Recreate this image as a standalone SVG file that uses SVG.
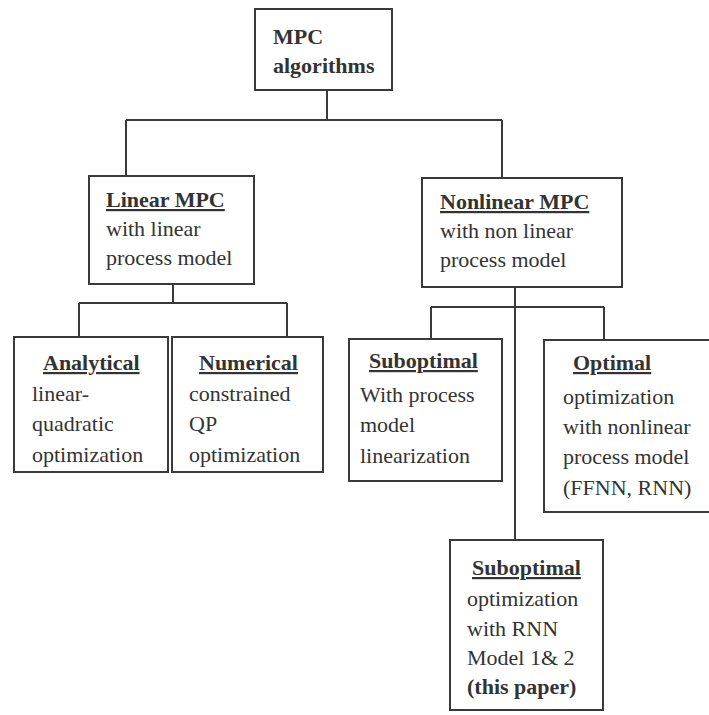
<svg xmlns="http://www.w3.org/2000/svg" width="709" height="715" viewBox="0 0 709 715">
<style>
.box{fill:#fff;stroke:#3a3a3a;stroke-width:2}
.con{fill:none;stroke:#3a3a3a;stroke-width:2}
text{font-family:"Liberation Serif","Times New Roman",serif;font-size:22px;fill:#333}
.b{font-weight:bold}
.u{text-decoration:underline}
</style>
<rect width="709" height="715" fill="#fff"/>
<g id="connectors">
<path class="con" d="M327 90V120M126 120H502M126 120V176M502 120V178"/>
<path class="con" d="M173 284V303M79 303H287M79 303V337M287 303V337"/>
<path class="con" d="M515 287V540M431 307H604M431 307V339M604 307V340"/>
</g>
<g id="n-mpc">
<rect class="box" x="255" y="9" width="137" height="81"/>
<text class="b" x="273" y="44">MPC</text>
<text class="b" x="273" y="73">algorithms</text>
</g>
<g id="n-linear">
<rect class="box" x="89" y="176" width="165" height="108"/>
<text class="b u" x="106" y="207">Linear MPC</text>
<text x="106" y="236">with linear</text>
<text x="106" y="265">process model</text>
</g>
<g id="n-nonlinear">
<rect class="box" x="422" y="178" width="200" height="109"/>
<text class="b u" x="440" y="209">Nonlinear MPC</text>
<text x="440" y="238">with non linear</text>
<text x="440" y="267">process model</text>
</g>
<g id="n-analytical">
<rect class="box" x="14" y="337" width="154" height="135"/>
<text class="b u" x="43" y="370">Analytical</text>
<text x="32" y="401">linear-</text>
<text x="32" y="431">quadratic</text>
<text x="32" y="462">optimization</text>
</g>
<g id="n-numerical">
<rect class="box" x="172" y="337" width="151" height="135"/>
<text class="b u" x="199" y="370">Numerical</text>
<text x="189" y="401">constrained</text>
<text x="189" y="431">QP</text>
<text x="189" y="462">optimization</text>
</g>
<g id="n-suboptimal1">
<rect class="box" x="349" y="339" width="153" height="142"/>
<text class="b u" x="369" y="368">Suboptimal</text>
<text x="360" y="402">With process</text>
<text x="360" y="432">model</text>
<text x="360" y="463">linearization</text>
</g>
<g id="n-optimal">
<rect class="box" x="544" y="340" width="170" height="172"/>
<text class="b u" x="573" y="370">Optimal</text>
<text x="563" y="404">optimization</text>
<text x="563" y="434">with nonlinear</text>
<text x="563" y="464">process model</text>
<text x="563" y="495">(FFNN, RNN)</text>
</g>
<g id="n-suboptimal2">
<rect class="box" x="450" y="540" width="153" height="170"/>
<text class="b u" x="472" y="575">Suboptimal</text>
<text x="467" y="606">optimization</text>
<text x="467" y="636">with RNN</text>
<text x="467" y="665">Model 1&amp; 2</text>
<text class="b" x="467" y="694">(this paper)</text>
</g>
</svg>
